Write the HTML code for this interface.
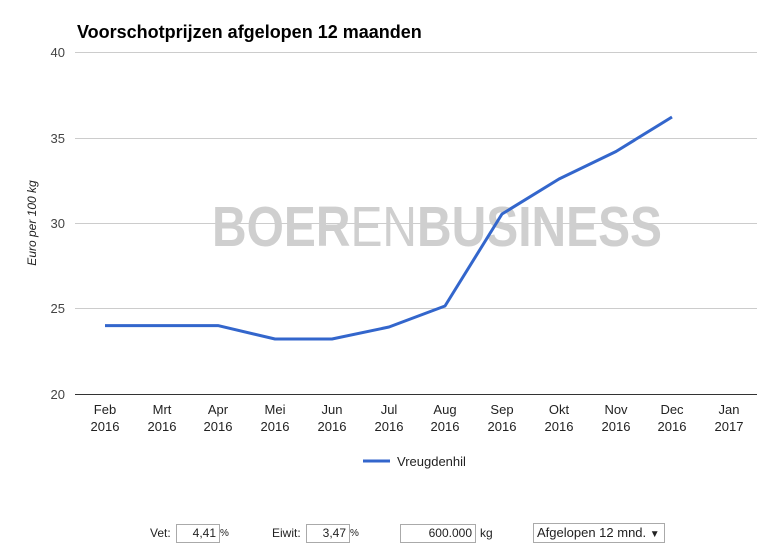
<!DOCTYPE html>
<html><head><meta charset="utf-8"><style>
body{margin:0;background:#fff;width:772px;height:559px;overflow:hidden;font-family:"Liberation Sans",sans-serif}
.in{position:absolute;top:524px;height:19px;border:1px solid #aaa;box-sizing:border-box;font-size:12px;text-align:right;padding-right:3px;line-height:17px;color:#222}
.l{position:absolute;top:526px;font-size:12px;color:#222}
</style></head><body>
<svg width="772" height="559" style="position:absolute;left:0;top:0" font-family="Liberation Sans, sans-serif">
<text x="77" y="38" font-size="18" font-weight="bold" fill="#000">Voorschotprijzen afgelopen 12 maanden</text>
<g stroke="#ccc" stroke-width="1">
<line x1="75" x2="757" y1="52.5" y2="52.5"/>
<line x1="75" x2="757" y1="138.5" y2="138.5"/>
<line x1="75" x2="757" y1="223.5" y2="223.5"/>
<line x1="75" x2="757" y1="308.5" y2="308.5"/>
</g>
<line x1="75" x2="757" y1="394.5" y2="394.5" stroke="#333"/>
<g font-size="13" fill="#444" text-anchor="end">
<text x="65" y="57">40</text><text x="65" y="143">35</text><text x="65" y="228">30</text><text x="65" y="313">25</text><text x="65" y="399">20</text>
</g>
<text transform="translate(36,223) rotate(-90)" font-size="12" font-style="italic" fill="#222" text-anchor="middle">Euro per 100 kg</text>
<g font-size="13" fill="#222" text-anchor="middle">
<text x="105" y="414">Feb</text><text x="105" y="431">2016</text>
<text x="162" y="414">Mrt</text><text x="162" y="431">2016</text>
<text x="218" y="414">Apr</text><text x="218" y="431">2016</text>
<text x="275" y="414">Mei</text><text x="275" y="431">2016</text>
<text x="332" y="414">Jun</text><text x="332" y="431">2016</text>
<text x="389" y="414">Jul</text><text x="389" y="431">2016</text>
<text x="445" y="414">Aug</text><text x="445" y="431">2016</text>
<text x="502" y="414">Sep</text><text x="502" y="431">2016</text>
<text x="559" y="414">Okt</text><text x="559" y="431">2016</text>
<text x="616" y="414">Nov</text><text x="616" y="431">2016</text>
<text x="672" y="414">Dec</text><text x="672" y="431">2016</text>
<text x="729" y="414">Jan</text><text x="729" y="431">2017</text>
</g>
<text x="212" y="246" font-size="57" fill="#cfcfcf" textLength="450" lengthAdjust="spacingAndGlyphs"><tspan font-weight="bold">BOER</tspan><tspan>EN</tspan><tspan font-weight="bold">BUSINESS</tspan></text>
<polyline fill="none" stroke="#3366cc" stroke-width="3" stroke-linejoin="round" points="105,325.6 162,325.6 218,325.6 275,339 332,339 389,327 445,306 502,214 559,179 616,151.5 672,117"/>
<line x1="363" x2="390" y1="461" y2="461" stroke="#3366cc" stroke-width="3"/>
<text x="397" y="466" font-size="13" fill="#222">Vreugdenhil</text>
</svg>
<span class="l" style="left:150px">Vet:</span>
<div class="in" style="left:176px;width:44px">4,41</div>
<span class="l" style="left:220px;font-size:10px;top:528px">%</span>
<span class="l" style="left:272px">Eiwit:</span>
<div class="in" style="left:306px;width:44px">3,47</div>
<span class="l" style="left:350px;font-size:10px;top:528px">%</span>
<div class="in" style="left:400px;width:76px">600.000</div>
<span class="l" style="left:480px">kg</span>
<div class="in" style="left:533px;width:132px;text-align:left;padding-left:3px;font-size:13px;height:20px;top:523px">Afgelopen 12 mnd. <span style="font-size:10px">▼</span></div>
</body></html>
